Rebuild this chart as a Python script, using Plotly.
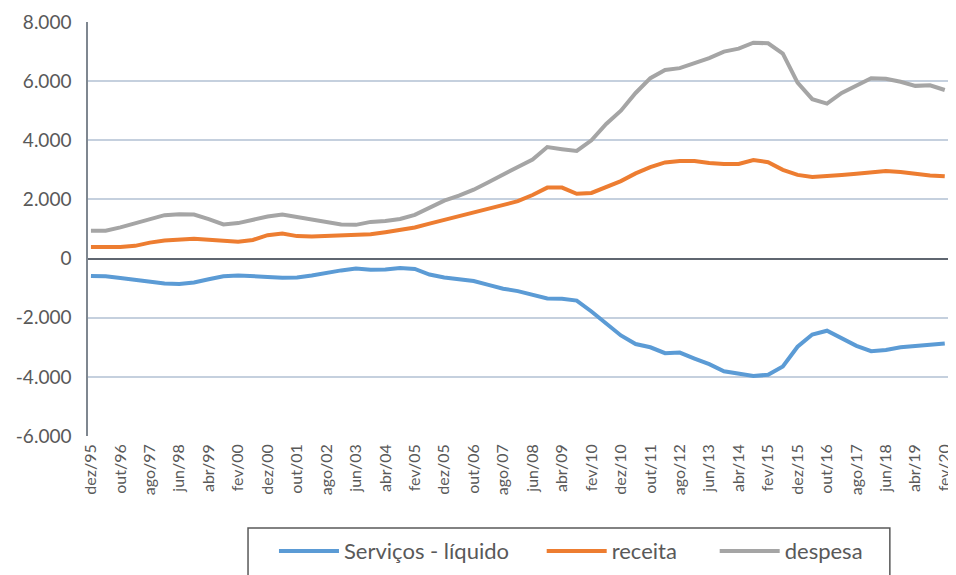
import plotly.graph_objects as go

# meses contados a partir de dez/95 (amostras a cada 5 meses)
meses = list(range(0, 291, 5))

servicos = [-590, -600, -660, -730, -780, -840, -860, -810, -700, -600, -570, -580, -620, -650, -640,
            -570, -480, -400, -340, -380, -370, -320, -350, -540, -640, -690, -760, -890, -1020, -1100,
            -1230, -1350, -1360, -1420, -1790, -2200, -2600, -2890, -3000, -3200, -3180, -3380, -3570, -3810,
            -3890, -3970, -3930, -3650, -2980, -2570, -2440, -2700, -2950, -3130, -3090, -3000, -2950, -2930, -2870]
receita = [389, 389, 389, 430, 540, 610, 640, 667, 640, 600, 570, 630, 790, 850, 760,
           744, 760, 780, 790, 820, 890, 970, 1050, 1180, 1310, 1450, 1580, 1700, 1820, 1940,
           2150, 2400, 2400, 2190, 2220, 2430, 2620, 2880, 3090, 3250, 3300, 3300, 3230, 3200,
           3200, 3330, 3260, 3000, 2830, 2760, 2780, 2830, 2870, 2930, 2960, 2930, 2860, 2810, 2780]
despesa = [944, 944, 1055, 1189, 1333, 1467, 1500, 1489, 1333, 1155, 1200, 1311, 1422, 1489, 1400,
           1333, 1222, 1150, 1140, 1240, 1270, 1340, 1480, 1730, 1960, 2130, 2330, 2580, 2850, 3100,
           3350, 3770, 3700, 3640, 4000, 4550, 5000, 5600, 6100, 6380, 6440, 6600, 6780, 7000,
           7100, 7300, 7280, 6930, 5950, 5390, 5240, 5600, 5850, 6100, 6080, 5980, 5840, 5860, 5700]

rotulos_x = ['dez/95', 'out/96', 'ago/97', 'jun/98', 'abr/99', 'fev/00', 'dez/00', 'out/01',
             'ago/02', 'jun/03', 'abr/04', 'fev/05', 'dez/05', 'out/06', 'ago/07', 'jun/08',
             'abr/09', 'fev/10', 'dez/10', 'out/11', 'ago/12', 'jun/13', 'abr/14', 'fev/15',
             'dez/15', 'out/16', 'ago/17', 'jun/18', 'abr/19', 'fev/20']
ticks_y = [-6000, -4000, -2000, 0, 2000, 4000, 6000, 8000]

texto_y = [f"{v:,}".replace(",", ".") for v in ticks_y]
pos_x = [i * 10 for i in range(len(rotulos_x))]

cinza = '#595959'
fig = go.Figure()
fig.add_trace(go.Scatter(x=meses, y=servicos, mode='lines', name='Serviços - líquido',
                         line=dict(color='#5B9BD5', width=4), legend='legend'))
fig.add_trace(go.Scatter(x=meses, y=receita, mode='lines', name='receita',
                         line=dict(color='#ED7D31', width=4), legend='legend2'))
fig.add_trace(go.Scatter(x=meses, y=despesa, mode='lines', name='despesa',
                         line=dict(color='#A5A5A5', width=4), legend='legend3'))

# o body da página tem 8px de margem: figura 948x567
leg = dict(orientation='h', y=-0.2273, yanchor='top', xanchor='left',
           bgcolor='rgba(0,0,0,0)', borderwidth=0, font=dict(size=22, color=cinza),
           itemwidth=60, entrywidth=0)

fig.update_layout(
    width=948, height=567,
    margin=dict(l=80, r=3, t=14, b=135),
    plot_bgcolor='white', paper_bgcolor='white',
    font=dict(family='Lato, Open Sans, sans-serif', color=cinza),
    xaxis=dict(range=[-1, 292.8], tickvals=pos_x, ticktext=rotulos_x, tickangle=-90,
               showgrid=False, zeroline=False, showline=False, automargin=False,
               ticklabeloverflow='allow',
               tickfont=dict(size=16, color=cinza), ticklabelstandoff=4),
    yaxis=dict(range=[-6000, 8000], tickvals=ticks_y, ticktext=texto_y, automargin=False,
               showgrid=True, gridcolor='#C5D0DE', gridwidth=1.5,
               zeroline=True, zerolinecolor='#5F6670', zerolinewidth=1.5,
               showline=True, linecolor='#7F8790', linewidth=1.5,
               tickfont=dict(size=19, color=cinza), ticklabelstandoff=11),
    legend=dict(leg, x=0.2150),
    legend2=dict(leg, x=0.5245),
    legend3=dict(leg, x=0.7245),
    shapes=[dict(type='rect', xref='paper', yref='paper', x0=0.185, x1=0.927,
                 y0=-0.2225, y1=-0.36, line=dict(color=cinza, width=1.5))],
    showlegend=True,
)

fig.write_html("out.html")
